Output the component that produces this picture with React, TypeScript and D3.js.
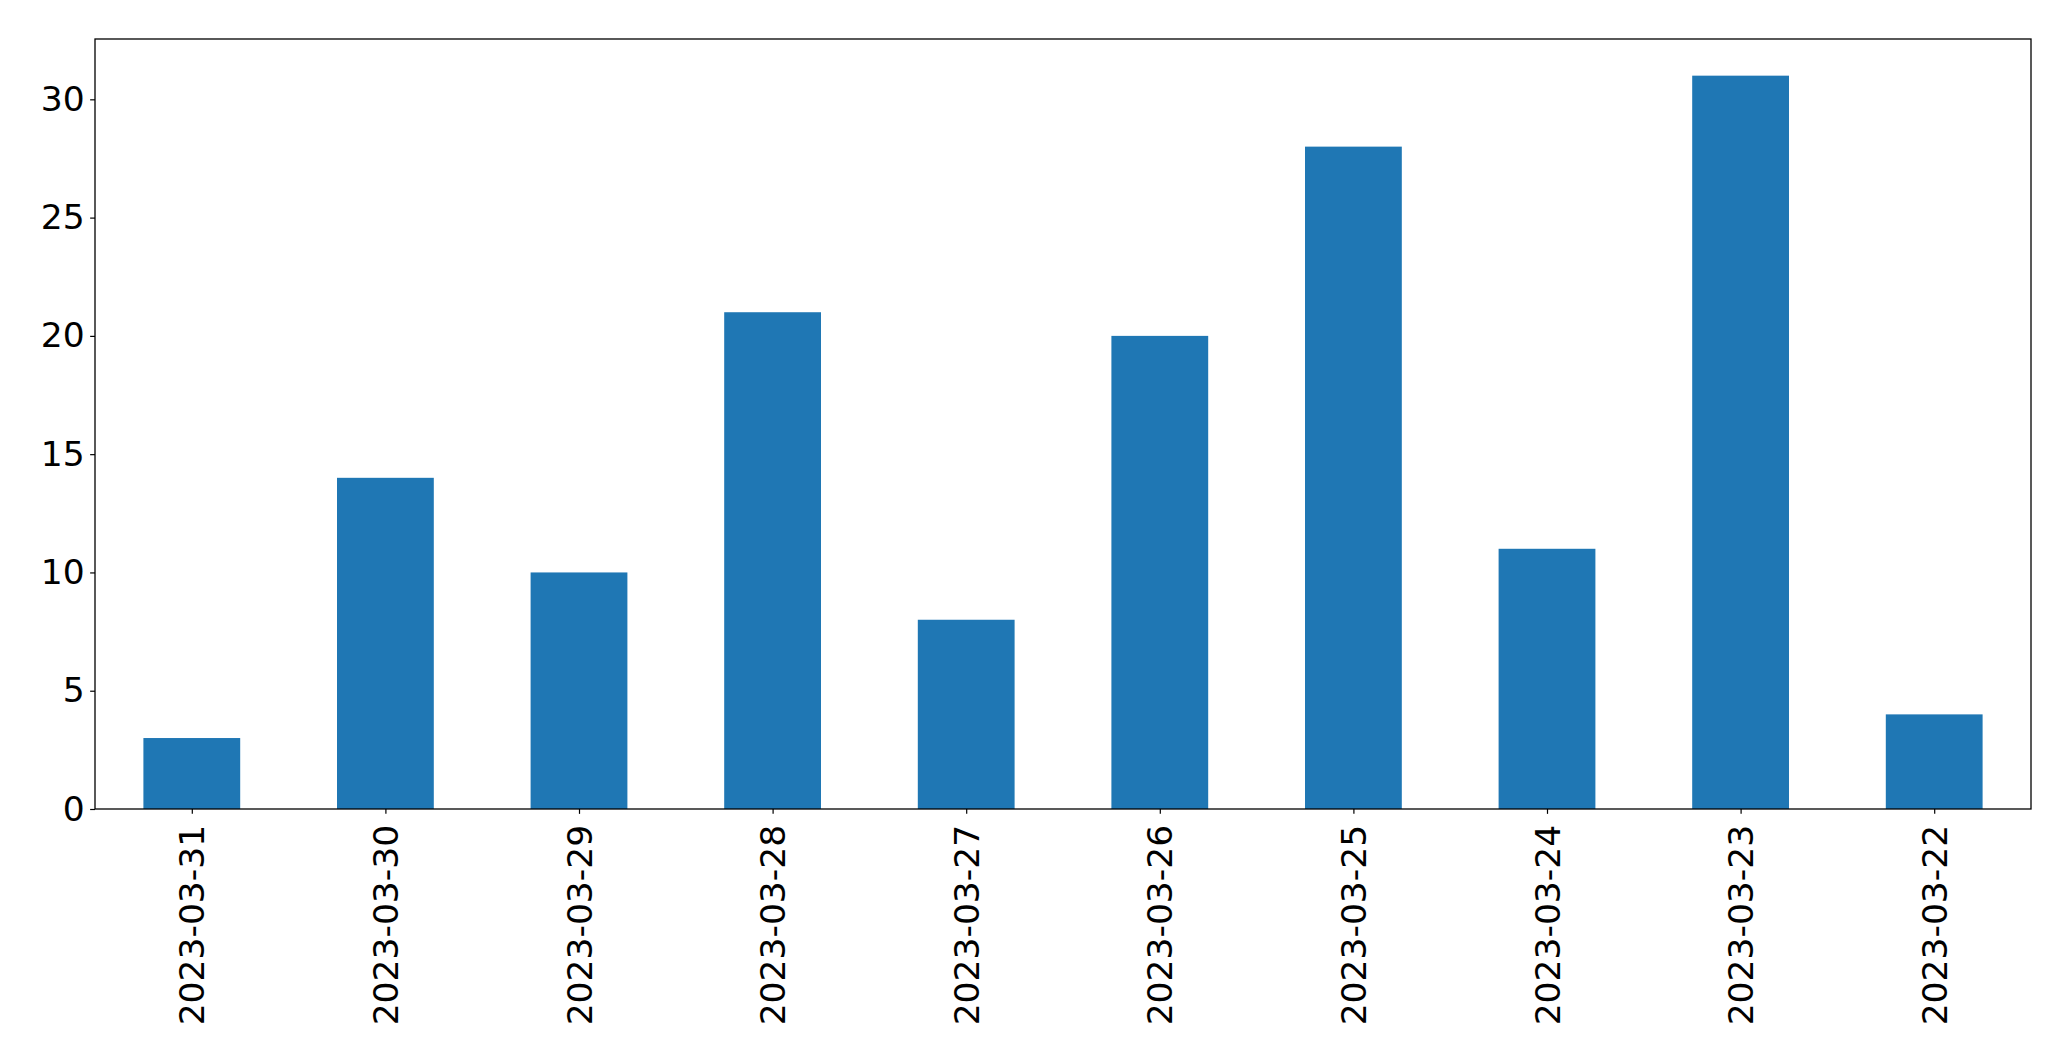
import * as React from 'react';
import {useEffect, useRef} from 'react';
import * as d3 from 'd3';

const dates = ['2023-03-31', '2023-03-30', '2023-03-29', '2023-03-28', '2023-03-27',
  '2023-03-26', '2023-03-25', '2023-03-24', '2023-03-23', '2023-03-22'];
const counts = [3, 14, 10, 21, 8, 20, 28, 11, 31, 4];
const yTicks = [0, 5, 10, 15, 20, 25, 30];

const width = 2071;
const height = 1061;
const margin = {top: 39, right: 40, bottom: 252, left: 95};
const fontSize = 34.5;
const tickLen = 4.86;

export default function App() {
  const ref = useRef<SVGSVGElement>(null);

  useEffect(() => {
    document.body.style.margin = '0';
    const svg = d3.select(ref.current);
    svg.selectAll('*').remove();

    const innerW = width - margin.left - margin.right;
    const innerH = height - margin.top - margin.bottom;

    // pandas-style bars: xlim -0.5..n-0.5, bar width 0.5
    const x = d3.scaleLinear().domain([-0.5, dates.length - 0.5]).range([0, innerW]);
    const y = d3.scaleLinear().domain([0, d3.max(counts)! * 1.05]).range([innerH, 0]);

    const g = svg.append('g').attr('transform', `translate(${margin.left},${margin.top})`);

    g.selectAll('rect.bar')
      .data(counts)
      .join('rect')
      .attr('class', 'bar')
      .attr('x', (d, i) => x(i - 0.25))
      .attr('width', x(0.25) - x(-0.25))
      .attr('y', d => y(d))
      .attr('height', d => y(0) - y(d))
      .attr('fill', '#1f77b4');

    const yAxis = g.append('g')
      .call(d3.axisLeft(y).tickValues(yTicks).tickSize(tickLen).tickPadding(5.5).tickFormat(d3.format('d')));
    yAxis.select('.domain').remove();

    const xAxis = g.append('g')
      .attr('transform', `translate(0,${innerH})`)
      .call(d3.axisBottom(x).tickValues(d3.range(dates.length)).tickSize(tickLen).tickFormat((d, i) => dates[i]));
    xAxis.select('.domain').remove();
    xAxis.selectAll('text')
      .attr('transform', 'rotate(-90)')
      .attr('x', -(tickLen + 11))
      .attr('y', 0)
      .attr('dy', '0.35em')
      .attr('text-anchor', 'end');

    svg.selectAll('.tick line').attr('stroke', '#000').attr('stroke-width', 1.2);
    svg.selectAll('.tick text')
      .attr('fill', '#000')
      .style('font-family', 'DejaVu Sans')
      .style('font-size', `${fontSize}px`);

    g.append('rect')
      .attr('x', 0)
      .attr('y', 0)
      .attr('width', innerW)
      .attr('height', innerH)
      .attr('fill', 'none')
      .attr('stroke', '#000')
      .attr('stroke-width', 1.3);
  }, []);

  return <svg ref={ref} width={width} height={height} style={{display: 'block', background: '#fff'}} />;
}
